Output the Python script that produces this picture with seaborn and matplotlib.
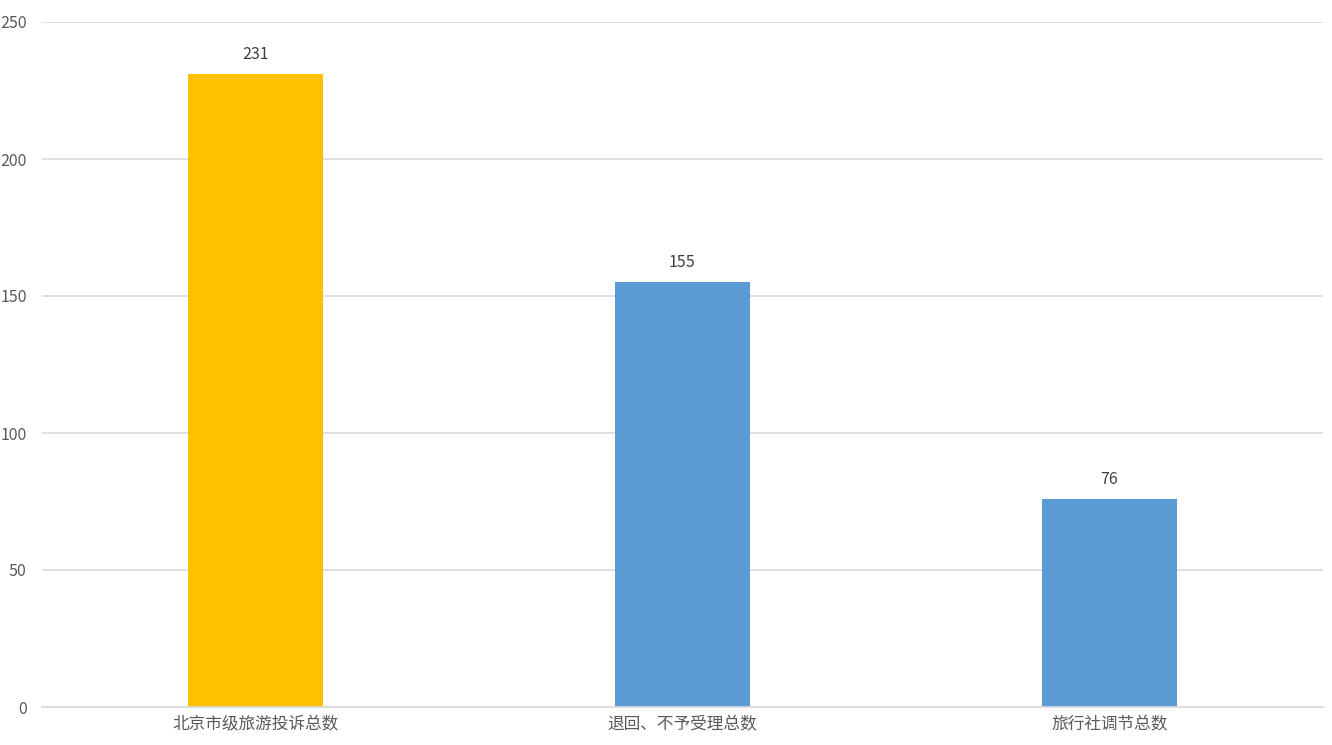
import matplotlib
matplotlib.use("Agg")
import matplotlib.pyplot as plt
import seaborn as sns
import pandas as pd

categories = ["北京市级旅游投诉总数", "退回、不予受理总数", "旅行社调节总数"]
values = [231, 155, 76]
colors = ["#FFC000", "#5B9BD5", "#5B9BD5"]
yticks = [0, 50, 100, 150, 200, 250]

sns.set_theme(style="white")
plt.rcParams['font.family'] = ['Noto Sans CJK SC', 'DejaVu Sans']

df = pd.DataFrame({"cat": categories, "val": values})

fig = plt.figure(figsize=(13.32, 7.45), dpi=100)
ax = fig.add_axes([42/1332, 1-707/745, (1323-42)/1332, (707-22)/745])

sns.barplot(data=df, x="cat", y="val", hue="cat", palette=colors, legend=False,
            width=0.314, ax=ax, saturation=1, linewidth=0, edgecolor="none")

ax.set_ylim(0, 250)
ax.set_xlim(-0.5, 2.5)
ax.set_yticks(yticks)
ax.yaxis.grid(True, color="#D9D9D9", linewidth=1.2)
ax.set_axisbelow(True)
for s in ["top", "right", "left"]:
    ax.spines[s].set_visible(False)
ax.spines["bottom"].set_color("#D9D9D9")
ax.spines["bottom"].set_linewidth(1.2)
ax.tick_params(axis="both", length=0, colors="#595959")
ax.tick_params(axis="x", pad=7, labelsize=12)
ax.tick_params(axis="y", pad=11, labelsize=11.5)
ax.set_xlabel("")
ax.set_ylabel("")

for i, v in enumerate(values):
    ax.annotate(str(v), (i, v), xytext=(0, 8), textcoords="offset points",
                ha="center", va="bottom", fontsize=11.5, color="#404040")

fig.savefig("out.png", dpi=100)
